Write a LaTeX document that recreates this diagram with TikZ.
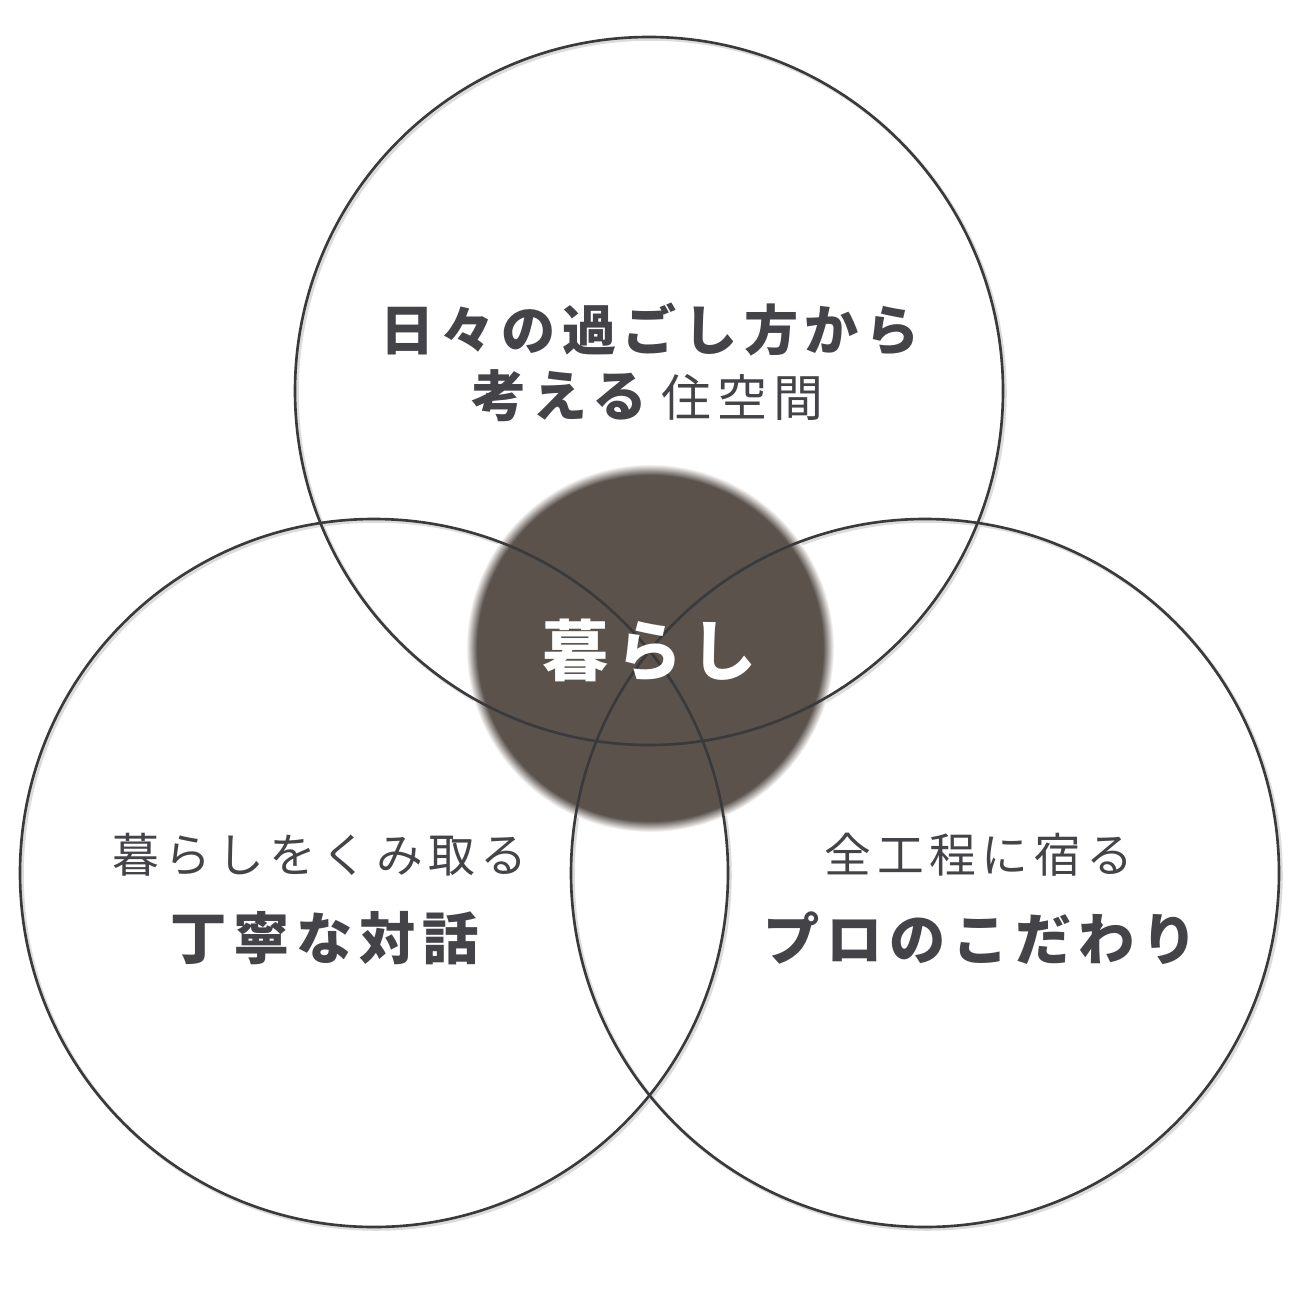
\documentclass[tikz,border=0pt]{standalone}
\usepackage{fontspec}
\newfontfamily\jpfont[LetterSpace=12]{Noto Sans CJK JP}
\usepackage{tikz}
\definecolor{ringgray}{HTML}{3A3A3C}
\definecolor{ringshade}{HTML}{DCDCDC}
\definecolor{kurashibrown}{HTML}{5B524C}
\definecolor{mojigray}{HTML}{444448}
\pgfdeclareradialshading{kurashiglow}{\pgfpoint{0bp}{0bp}}{%
  color(0bp)=(kurashibrown); color(23.5bp)=(kurashibrown);
  color(25bp)=(white); color(50bp)=(white)}
\tikzset{
  ring/.style={draw=ringgray,line width=0.75pt},
  ringshadow/.style={draw=ringshade,line width=1pt},
  moji/.style={text=mojigray,inner sep=0pt,font=\jpfont},
}

\begin{document}
\begin{tikzpicture}[x=0.01cm,y=-0.01cm]
  \useasboundingbox[fill=white] (0,0) rectangle (1300,1300);
  % shadows of the three rings
  \foreach \cx/\cy in {649/391,374/873,925/873}
    \draw[ringshadow] (\cx+2,\cy+2) circle (354);
  % centre disc
  \shade[shading=kurashiglow] (650,648) circle (184);
  % the three rings
  \foreach \cx/\cy in {649/391,374/873,925/873}
    \draw[ring] (\cx,\cy) circle (354);

  \node[moji,font=\jpfont\bfseries\fontsize{15.4}{18}\selectfont] (sukan1) at (650,330) {日々の過ごし方から};
  \node[moji] (sukan2) at (647,396)
    {{\bfseries\fontsize{15.6}{18}\selectfont 考える}\hspace{4pt}{\fontsize{14.2}{18}\selectfont 住空間}};

  \node[moji,font=\jpfont\fontsize{13.3}{16}\selectfont] (taiwa1) at (320,855) {暮らしをくみ取る};
  \node[moji,font=\jpfont\bfseries\fontsize{16}{19}\selectfont] (taiwa2) at (325,938) {丁寧な対話};

  \node[moji,font=\jpfont\fontsize{13.3}{16}\selectfont] (kodawari1) at (979,855) {全工程に宿る};
  \node[moji,font=\jpfont\bfseries\fontsize{16}{19}\selectfont] (kodawari2) at (981,938) {プロのこだわり};

  \node[moji,text=white,font=\jpfont\bfseries\fontsize{18.8}{22}\selectfont] (kurashi) at (650,650) {暮らし};
\end{tikzpicture}
\end{document}
